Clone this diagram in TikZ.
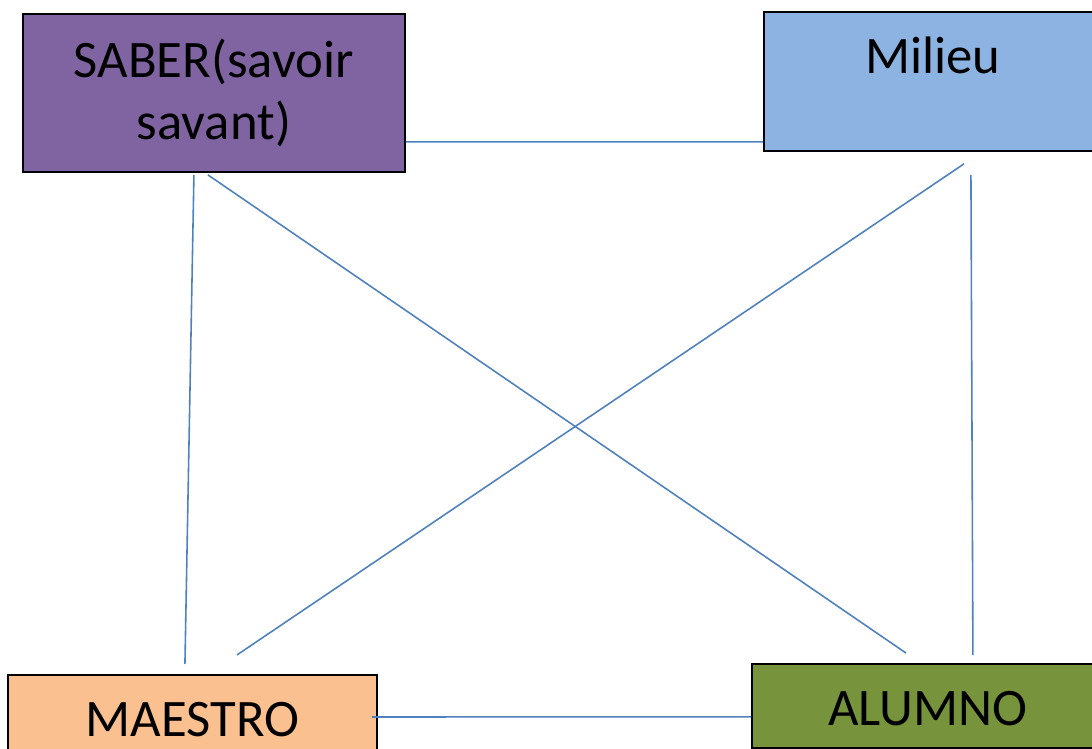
\documentclass[tikz,border=0pt]{standalone}
\usepackage{fontspec}
\setmainfont{Carlito}
\usepackage{xcolor}
\usepackage{tikz}
\usetikzlibrary{positioning}
\definecolor{saberfill}{HTML}{8064A2}
\definecolor{milieufill}{HTML}{8DB3E2}
\definecolor{maestrofill}{HTML}{FAC090}
\definecolor{alumnofill}{HTML}{77933C}
\definecolor{linkblue}{HTML}{4F81BD}
\tikzset{
    box/.style={rectangle, draw=black, line width=1.1pt, inner sep=0pt, align=center, font=\fontsize{30}{35}\selectfont},
    link/.style={draw=linkblue, line width=0.9pt}
}

\begin{document}
\begin{tikzpicture}[x=0.02cm, y=-0.02cm]
  \useasboundingbox (0,0) rectangle (1092,749);
  \clip (0,0) rectangle (1092,749);
  \node[box, fill=saberfill, minimum width=7.64cm, minimum height=3.16cm, anchor=north west] (saber) at (22,13) {SABER(savoir\\savant)};
  \node[box, fill=milieufill, minimum width=6.76cm, text height=1.24cm, text depth=1.54cm, anchor=north west] (milieu) at (763,11) {Milieu};
  \node[box, fill=maestrofill, minimum width=7.38cm, text height=1.24cm, text depth=0.44cm, anchor=north west] (maestro) at (7,674) {MAESTRO};
  \node[box, fill=alumnofill, minimum width=7.04cm, text height=1.24cm, text depth=0.44cm, anchor=north west] (alumno) at (751,663) {ALUMNO};
  \draw[link] ([yshift=0.62cm]saber.south east) -- ([yshift=0.2cm]milieu.south west);
  \draw[link] ([xshift=-0.4cm, yshift=-0.04cm]saber.south) -- ([xshift=-0.15cm, yshift=0.2cm]maestro.north);
  \draw[link] ([xshift=-0.12cm, yshift=-0.04cm]saber.south) -- ([xshift=-0.44cm, yshift=0.2cm]alumno.north);
  \draw[link] ([xshift=0.62cm, yshift=-0.24cm]milieu.south) -- ([xshift=0.89cm, yshift=0.38cm]maestro.north);
  \draw[link] ([xshift=0.76cm, yshift=-0.46cm]milieu.south) -- ([xshift=0.9cm, yshift=0.16cm]alumno.north);
  \draw[link] ([xshift=-0.12cm]maestro.east) -- ([yshift=-0.22cm]alumno.west);
\end{tikzpicture}
\end{document}
